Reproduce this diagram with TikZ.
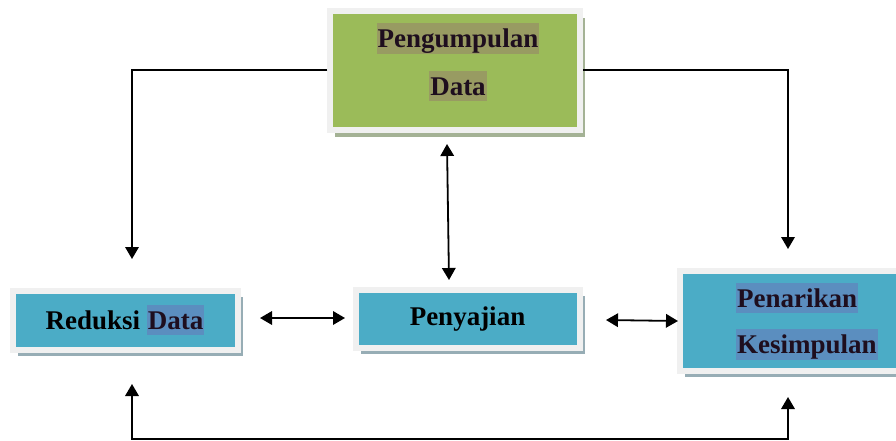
\documentclass[tikz,border=0pt]{standalone}
\usepackage{fontspec}
\setmainfont{Liberation Serif}
\usetikzlibrary{arrows.meta,shadows,calc}
\definecolor{gfill}{HTML}{9BBB59}
\definecolor{bfill}{HTML}{4BACC6}
\definecolor{ghl}{HTML}{989B62}
\definecolor{bhl}{HTML}{5B8EBF}
\definecolor{txt}{HTML}{1E0E1E}
\definecolor{framec}{HTML}{F0F0F0}
\definecolor{gshad}{HTML}{A4B295}
\definecolor{bshad}{HTML}{97ADB5}
\newcommand{\hlbox}[2]{{\setlength{\fboxsep}{1pt}\colorbox{#1}{\rule[-4.5pt]{0pt}{28pt}\textcolor{txt}{#2}}}}
\begin{document}
\begin{tikzpicture}[x=1pt,y=-1pt,
  box/.style={draw=framec, line width=6pt, inner sep=0pt, text=black,
    font=\fontsize{27}{30}\selectfont\bfseries},
  gbox/.style={box, fill=gfill, drop shadow={shadow xshift=5pt, shadow yshift=-7pt, fill=gshad, opacity=1}},
  bbox/.style={box, fill=bfill, drop shadow={shadow xshift=5pt, shadow yshift=-6pt, fill=bshad, opacity=1}},
  lbl/.style={inner sep=0pt, text=txt},
  con/.style={line width=1.8pt, black},
  tip/.style={-{Triangle[width=13.5pt,length=12pt]}},
  tips/.style={{Triangle[width=13.5pt,length=12pt]}-{Triangle[width=13.5pt,length=12pt]}}
]
\useasboundingbox (0,0) rectangle (896,440);
\clip (0,0) rectangle (896,440);

% boxes
\node[gbox, minimum width=249.5pt, minimum height=119pt] (g) at (455,70) {};
\node[bbox, minimum width=225pt, minimum height=59pt] (r) at (125,320) {Reduksi \hlbox{bhl}{Data}};
\node[bbox, minimum width=224pt, minimum height=58pt] (p) at (467.5,319) {Penyajian};
\node[bbox, minimum width=240pt, minimum height=100pt] (k) at (800,320.5) {};

% multi-line labels
\node[lbl, align=center, font=\fontsize{27}{48}\selectfont\bfseries] (gt) at (458,61.5)
  {\hlbox{ghl}{Pengumpulan}\\\hlbox{ghl}{Data}};
\node[lbl, align=left, anchor=west, font=\fontsize{27}{46.5}\selectfont\bfseries] (kt) at (736,321.5)
  {\hlbox{bhl}{Penarikan}\\\hlbox{bhl}{Kesimpulan}};

% connector end points
\coordinate (a1) at (132,259);
\coordinate (a2) at (788,249);
\coordinate (v1) at (447,144);
\coordinate (v2) at (449,280);
\coordinate (h1) at (260,318);
\coordinate (h2) at (345,318);
\coordinate (h3) at (606,320);
\coordinate (h4) at (678,321);
\coordinate (b1) at (132,384);
\coordinate (b2) at (788,397);
\coordinate (b0) at (0,439);

% connectors
\draw[con,tip] (g.west) -| (a1);
\draw[con,tip] (g.east) -| (a2);
\draw[con,tips] (v1) -- (v2);
\draw[con,tips] (h1) -- (h2);
\draw[con,tips] (h3) -- (h4);
\draw[con,tips] (b1) -- (b1 |- b0) -- (b2 |- b0) -- (b2);
\end{tikzpicture}
\end{document}
